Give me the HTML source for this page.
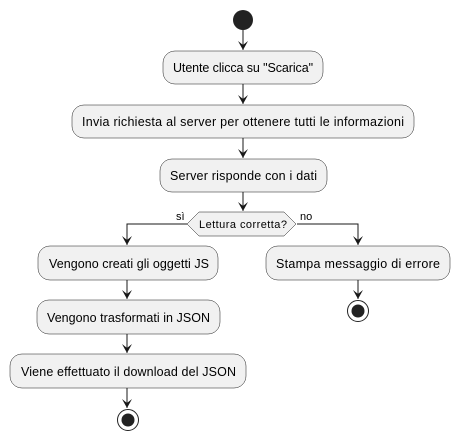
<!DOCTYPE html>
<html><head><meta charset="utf-8"><style>
html,body{margin:0;padding:0;background:#fff;}
svg{display:block;}
text{font-family:"Liberation Sans",sans-serif;font-size:12.5px;fill:#000;}
</style></head><body>
<svg width="459" height="440" viewBox="0 0 459 440" xmlns="http://www.w3.org/2000/svg">
<defs>
<marker id="a" markerWidth="10" markerHeight="10" refX="5" refY="9" orient="0" markerUnits="userSpaceOnUse"><path d="M0,0 L5,9 L10,0 L5,4 Z" fill="#181818"/></marker>
</defs>
<g stroke="#181818" stroke-width="1" fill="none">
<line x1="243" y1="30" x2="243" y2="50" marker-end="url(#a)"/>
<line x1="243" y1="84" x2="243" y2="104" marker-end="url(#a)"/>
<line x1="243" y1="138" x2="243" y2="158" marker-end="url(#a)"/>
<line x1="243" y1="192" x2="243" y2="211" marker-end="url(#a)"/>
<polyline points="187,224 127,224 127,245" marker-end="url(#a)"/>
<polyline points="297,224 358,224 358,245" marker-end="url(#a)"/>
<line x1="127" y1="280" x2="127" y2="299" marker-end="url(#a)"/>
<line x1="127" y1="334" x2="127" y2="353" marker-end="url(#a)"/>
<line x1="127" y1="388" x2="127" y2="408" marker-end="url(#a)"/>
<line x1="358" y1="280" x2="358" y2="299" marker-end="url(#a)"/>
</g>
<circle cx="243" cy="20" r="10" fill="#222"/>
<g fill="#f1f1f1" stroke="#181818" stroke-width="0.5">
<rect x="163" y="51" width="160" height="33" rx="12"/>
<rect x="72" y="105" width="342" height="33" rx="12"/>
<rect x="160" y="159" width="167" height="33" rx="12"/>
<polygon points="187,224 199,212 284,212 296,224 284,236 199,236"/>
<rect x="38" y="246" width="180" height="34" rx="12"/>
<rect x="37" y="300" width="183" height="34" rx="12"/>
<rect x="10" y="354" width="236" height="34" rx="12"/>
<rect x="266" y="246" width="184" height="34" rx="12"/>
</g>
<g fill="none" stroke="#222" stroke-width="1"><circle cx="128" cy="420" r="10.5"/><circle cx="358" cy="311" r="10.5"/></g>
<circle cx="128" cy="420" r="6.5" fill="#222"/>
<circle cx="358" cy="311" r="6.5" fill="#222"/>
<text x="173" y="72" textLength="140">Utente clicca su "Scarica"</text>
<text x="82" y="126" textLength="322">Invia richiesta al server per ottenere tutti le informazioni</text>
<text x="170" y="180" textLength="147">Server risponde con i dati</text>
<text x="199" y="228" style="font-size:11px" textLength="88">Lettura corretta?</text>
<text x="176" y="220" style="font-size:11px">sì</text>
<text x="300" y="220" style="font-size:11px">no</text>
<text x="49" y="268" textLength="160">Vengono creati gli oggetti JS</text>
<text x="47" y="322" textLength="163">Vengono trasformati in JSON</text>
<text x="21" y="376" textLength="215">Viene effettuato il download del JSON</text>
<text x="276" y="268" textLength="164">Stampa messaggio di errore</text>
</svg>
</body></html>
